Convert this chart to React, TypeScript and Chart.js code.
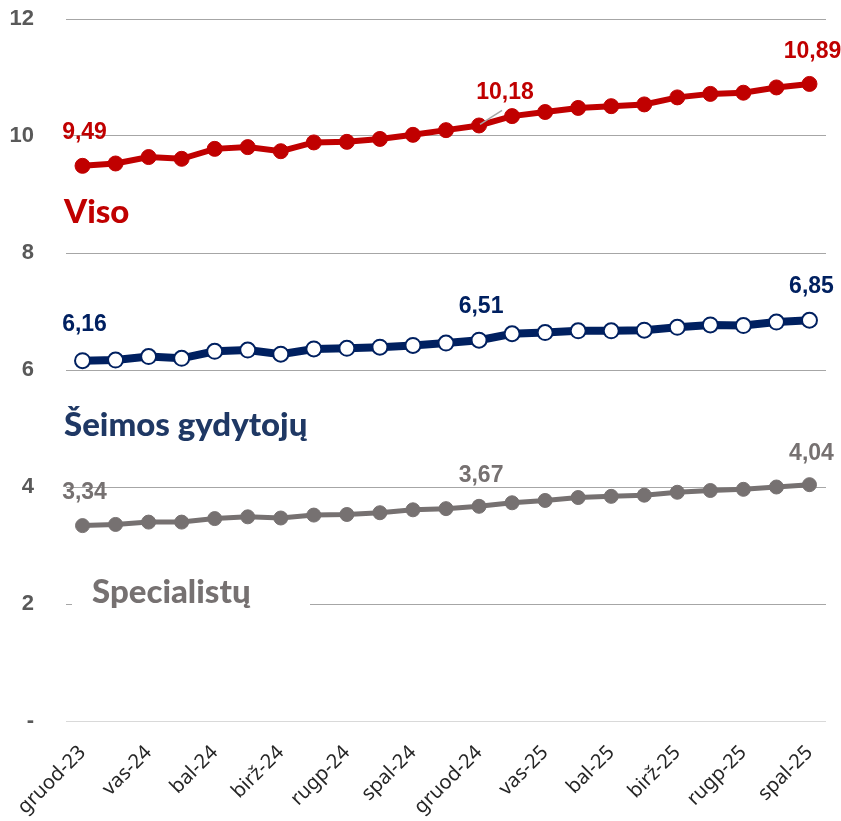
import React, { useEffect, useRef } from "react";
import { Chart, registerables } from "chart.js";

Chart.register(...registerables);

const months = [
  "gruod-23", "saus-24", "vas-24", "kov-24", "bal-24", "geg-24", "birž-24", "liep-24",
  "rugp-24", "rugs-24", "spal-24", "lapkr-24", "gruod-24", "saus-25", "vas-25", "kov-25",
  "bal-25", "geg-25", "birž-25", "liep-25", "rugp-25", "rugs-25", "spal-25",
];

const viso = [
  9.49, 9.53, 9.64, 9.61, 9.78, 9.81, 9.74, 9.89, 9.90, 9.95, 10.02, 10.10,
  10.18, 10.34, 10.41, 10.48, 10.51, 10.54, 10.66, 10.72, 10.74, 10.83, 10.89,
];

const seimos = [
  6.16, 6.17, 6.23, 6.20, 6.32, 6.34, 6.27, 6.36, 6.37, 6.39, 6.42, 6.46,
  6.51, 6.62, 6.64, 6.67, 6.67, 6.68, 6.73, 6.77, 6.76, 6.82, 6.85,
];

const specialistu = [
  3.34, 3.36, 3.40, 3.40, 3.46, 3.49, 3.47, 3.52, 3.53, 3.56, 3.61, 3.63,
  3.67, 3.73, 3.77, 3.82, 3.84, 3.86, 3.91, 3.94, 3.96, 4.00, 4.04,
];

const seriesNames = ["Viso", "Šeimos gydytojų", "Specialistų"];
const labeledIdx = [0, 12, 22];
const yTicks = [0, 2, 4, 6, 8, 10, 12];

const RED = "#C00000";
const NAVY = "#002060";
const GRAY = "#767171";

export default function App() {
  const ref = useRef<HTMLCanvasElement | null>(null);

  useEffect(() => {
    document.body.style.margin = "0";
    const canvas = ref.current;
    if (!canvas) return;

    const labelOffsets = [
      [[2, -33], [26, -33], [3, -32]],
      [[2, -36], [2, -34], [2, -34]],
      [[2, -33], [2, -31], [2, -31]],
    ];
    const labelColors = [RED, NAVY, GRAY];
    const nameStyles = [
      { x: 64, y: 223, color: RED },
      { x: 64, y: 436, color: "#1F3864" },
      { x: 92, y: 603, color: GRAY },
    ];

    const overlay = {
      id: "overlay",
      beforeDatasetsDraw(chart: any) {
        const c = chart.ctx;
        c.save();
        c.fillStyle = "#FFFFFF";
        c.fillRect(72, 596, 238, 14);
        c.restore();
      },
      afterDatasetsDraw(chart: any) {
        const c = chart.ctx;
        c.save();
        const pLead = chart.getDatasetMeta(0).data[12];
        c.strokeStyle = "#A6A6A6";
        c.lineWidth = 1.5;
        c.beginPath();
        c.moveTo(pLead.x + 1, pLead.y - 1);
        c.lineTo(pLead.x + 23, pLead.y - 15);
        c.stroke();

        c.font = "bold 23px 'Liberation Sans', Arial, sans-serif";
        c.textAlign = "center";
        c.textBaseline = "middle";
        chart.data.datasets.forEach((ds: any, di: number) => {
          const meta = chart.getDatasetMeta(di);
          labeledIdx.forEach((idx, k) => {
            const p = meta.data[idx];
            const v = ds.data[idx] as number;
            const [dx, dy] = labelOffsets[di][k];
            c.fillStyle = labelColors[di];
            c.fillText(v.toFixed(2).replace(".", ","), p.x + dx, p.y + dy);
          });
        });

        c.font = "900 33px Lato, 'Liberation Sans', Arial, sans-serif";
        c.textAlign = "left";
        c.textBaseline = "alphabetic";
        seriesNames.forEach((n, i) => {
          c.fillStyle = nameStyles[i].color;
          c.fillText(n, nameStyles[i].x, nameStyles[i].y);
        });
        c.restore();
      },
    };

    const chart = new Chart(canvas, {
      type: "line",
      data: {
        labels: months,
        datasets: [
          {
            label: seriesNames[0],
            data: viso,
            borderColor: RED,
            backgroundColor: RED,
            borderWidth: 6,
            pointRadius: 7.5,
            pointBackgroundColor: RED,
            pointBorderColor: RED,
            pointBorderWidth: 1,
          },
          {
            label: seriesNames[1],
            data: seimos,
            borderColor: NAVY,
            backgroundColor: "#FFFFFF",
            borderWidth: 8,
            pointRadius: 7.5,
            pointBackgroundColor: "#FFFFFF",
            pointBorderColor: NAVY,
            pointBorderWidth: 2,
          },
          {
            label: seriesNames[2],
            data: specialistu,
            borderColor: GRAY,
            backgroundColor: GRAY,
            borderWidth: 5,
            pointRadius: 7,
            pointBackgroundColor: GRAY,
            pointBorderColor: GRAY,
            pointBorderWidth: 1,
          },
        ],
      },
      options: {
        responsive: false,
        animation: false,
        layout: { padding: { top: 19, right: 15, left: 0, bottom: 0 } },
        plugins: { legend: { display: false }, tooltip: { enabled: false } },
        scales: {
          x: {
            offset: true,
            grid: { display: false },
            border: { display: false },
            afterFit: (s: any) => {
              s.height = 100;
              s.paddingLeft = 0;
              s.paddingRight = 0;
            },
            ticks: {
              autoSkip: false,
              maxRotation: 45,
              minRotation: 45,
              padding: 12,
              color: "#262626",
              font: { size: 20, family: "'Noto Sans', sans-serif" },
              callback: (_v: any, i: number) => (i % 2 === 0 ? months[i] : ""),
            },
          },
          y: {
            min: 0,
            max: 12,
            afterFit: (s: any) => {
              s.width = 66;
              s.paddingTop = 0;
              s.paddingBottom = 0;
            },
            afterBuildTicks: (s: any) => { s.ticks = yTicks.map((v) => ({ value: v })); },
            border: { display: false },
            grid: {
              drawTicks: false,
              lineWidth: 1,
              color: (ctx: any) => (ctx.tick && ctx.tick.value === 0 ? "#D9D9D9" : "#A6A6A6"),
            },
            ticks: {
              padding: 32,
              color: "#595959",
              font: { size: 22, weight: "bold", family: "'Liberation Sans', Arial, sans-serif" },
              callback: (v: any) => (v === 0 ? "-" : String(v)),
            },
          },
        },
      },
      plugins: [overlay],
    });
    return () => chart.destroy();
  }, []);

  return (
    <div style={{ position: "absolute", left: 0, top: 0, width: 841, height: 821 }}>
      <canvas ref={ref} width={841} height={821} />
    </div>
  );
}
